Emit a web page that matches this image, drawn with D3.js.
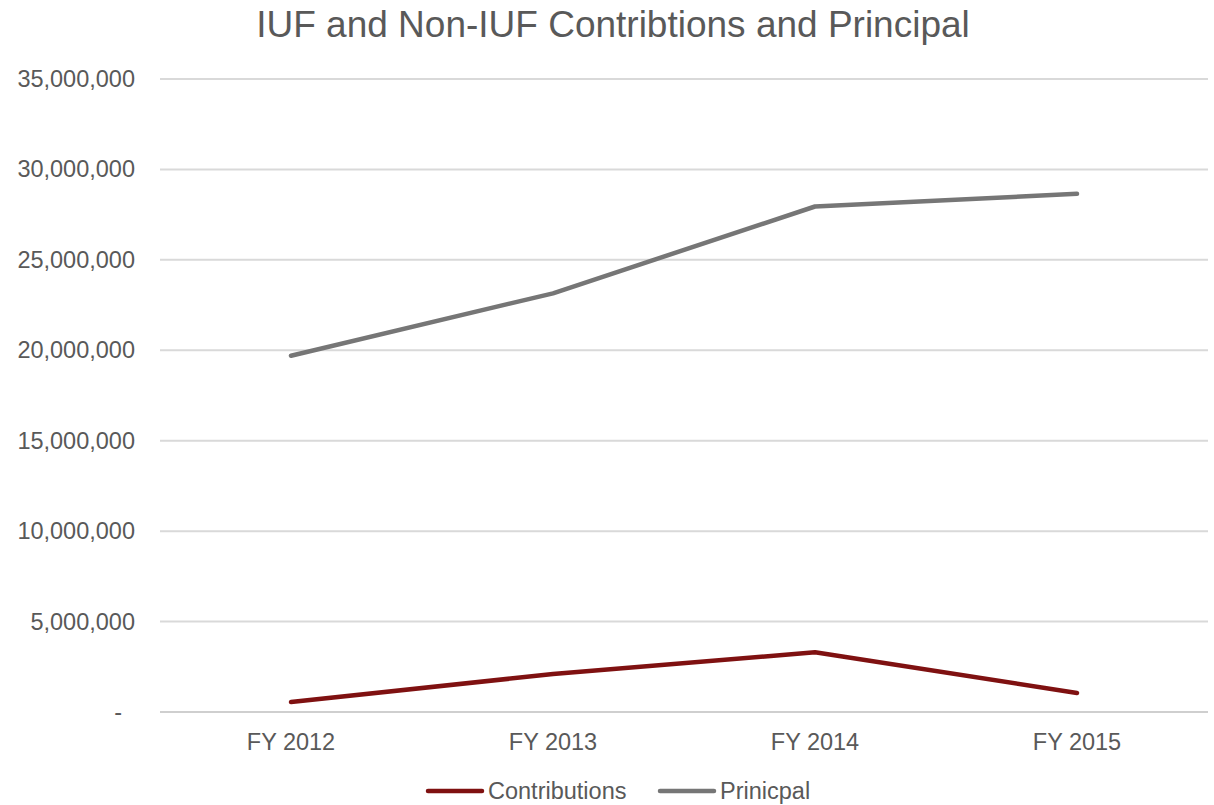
<!DOCTYPE html>
<html><head><meta charset="utf-8">
<script src="https://cdn.jsdelivr.net/npm/d3@7"></script>
<style>body{margin:0;background:#fff;} text{font-family:"Liberation Sans",Arial,sans-serif;}</style>
</head><body>
<svg id="c" width="1214" height="805"></svg>
<script>
const categories = ["FY 2012","FY 2013","FY 2014","FY 2015"];
const contributions = [550000, 2100000, 3300000, 1050000];
const principal = [19700000, 23150000, 27950000, 28650000];
const yTicks = [0,5000000,10000000,15000000,20000000,25000000,30000000,35000000];
const seriesNames = ["Contributions","Prinicpal"];
const colors = ["#7f1111","#767676"];
const title = "IUF and Non-IUF Contribtions and Principal";

const svg = d3.select("#c");
const L=160,R=1208,T=79,B=712;
const x = d3.scaleBand().domain(categories).range([L,R]);
const y = d3.scaleLinear().domain([0,35000000]).range([B,T]);

svg.append("text").attr("x",613).attr("y",37).attr("text-anchor","middle")
  .attr("font-size",37).attr("fill","#595959").text(title);

const g = svg.append("g");
g.selectAll("line.grid").data(yTicks).join("line")
  .attr("x1",L).attr("x2",R).attr("y1",d=>y(d)).attr("y2",d=>y(d))
  .attr("stroke",d=>d===0?"#cfcfcf":"#d9d9d9").attr("stroke-width",2);

const fmt = d3.format(",");
g.selectAll("text.yt").data(yTicks).join("text")
  .attr("x",d=>d===0?122:135).attr("y",d=>y(d)+8).attr("text-anchor","end")
  .attr("font-size",23.5).attr("fill","#595959")
  .text(d=>d===0?"-":fmt(d));

g.selectAll("text.xt").data(categories).join("text")
  .attr("x",d=>x(d)+x.bandwidth()/2).attr("y",750).attr("text-anchor","middle")
  .attr("font-size",23.5).attr("fill","#595959").text(d=>d);

const line = d3.line().x((d,i)=>x(categories[i])+x.bandwidth()/2).y(d=>y(d));
[contributions, principal].forEach((s,i)=>{
  svg.append("path").attr("d",line(s)).attr("fill","none")
    .attr("stroke",colors[i]).attr("stroke-width",4.5)
    .attr("stroke-linecap","round").attr("stroke-linejoin","round");
});

const leg = [{x:428},{x:660}];
seriesNames.forEach((n,i)=>{
  svg.append("line").attr("x1",leg[i].x).attr("x2",leg[i].x+54).attr("y1",791).attr("y2",791)
    .attr("stroke",colors[i]).attr("stroke-width",4.5).attr("stroke-linecap","round");
  svg.append("text").attr("x",leg[i].x+60).attr("y",799).attr("font-size",23.5)
    .attr("fill","#595959").text(n);
});
</script>
</body></html>
